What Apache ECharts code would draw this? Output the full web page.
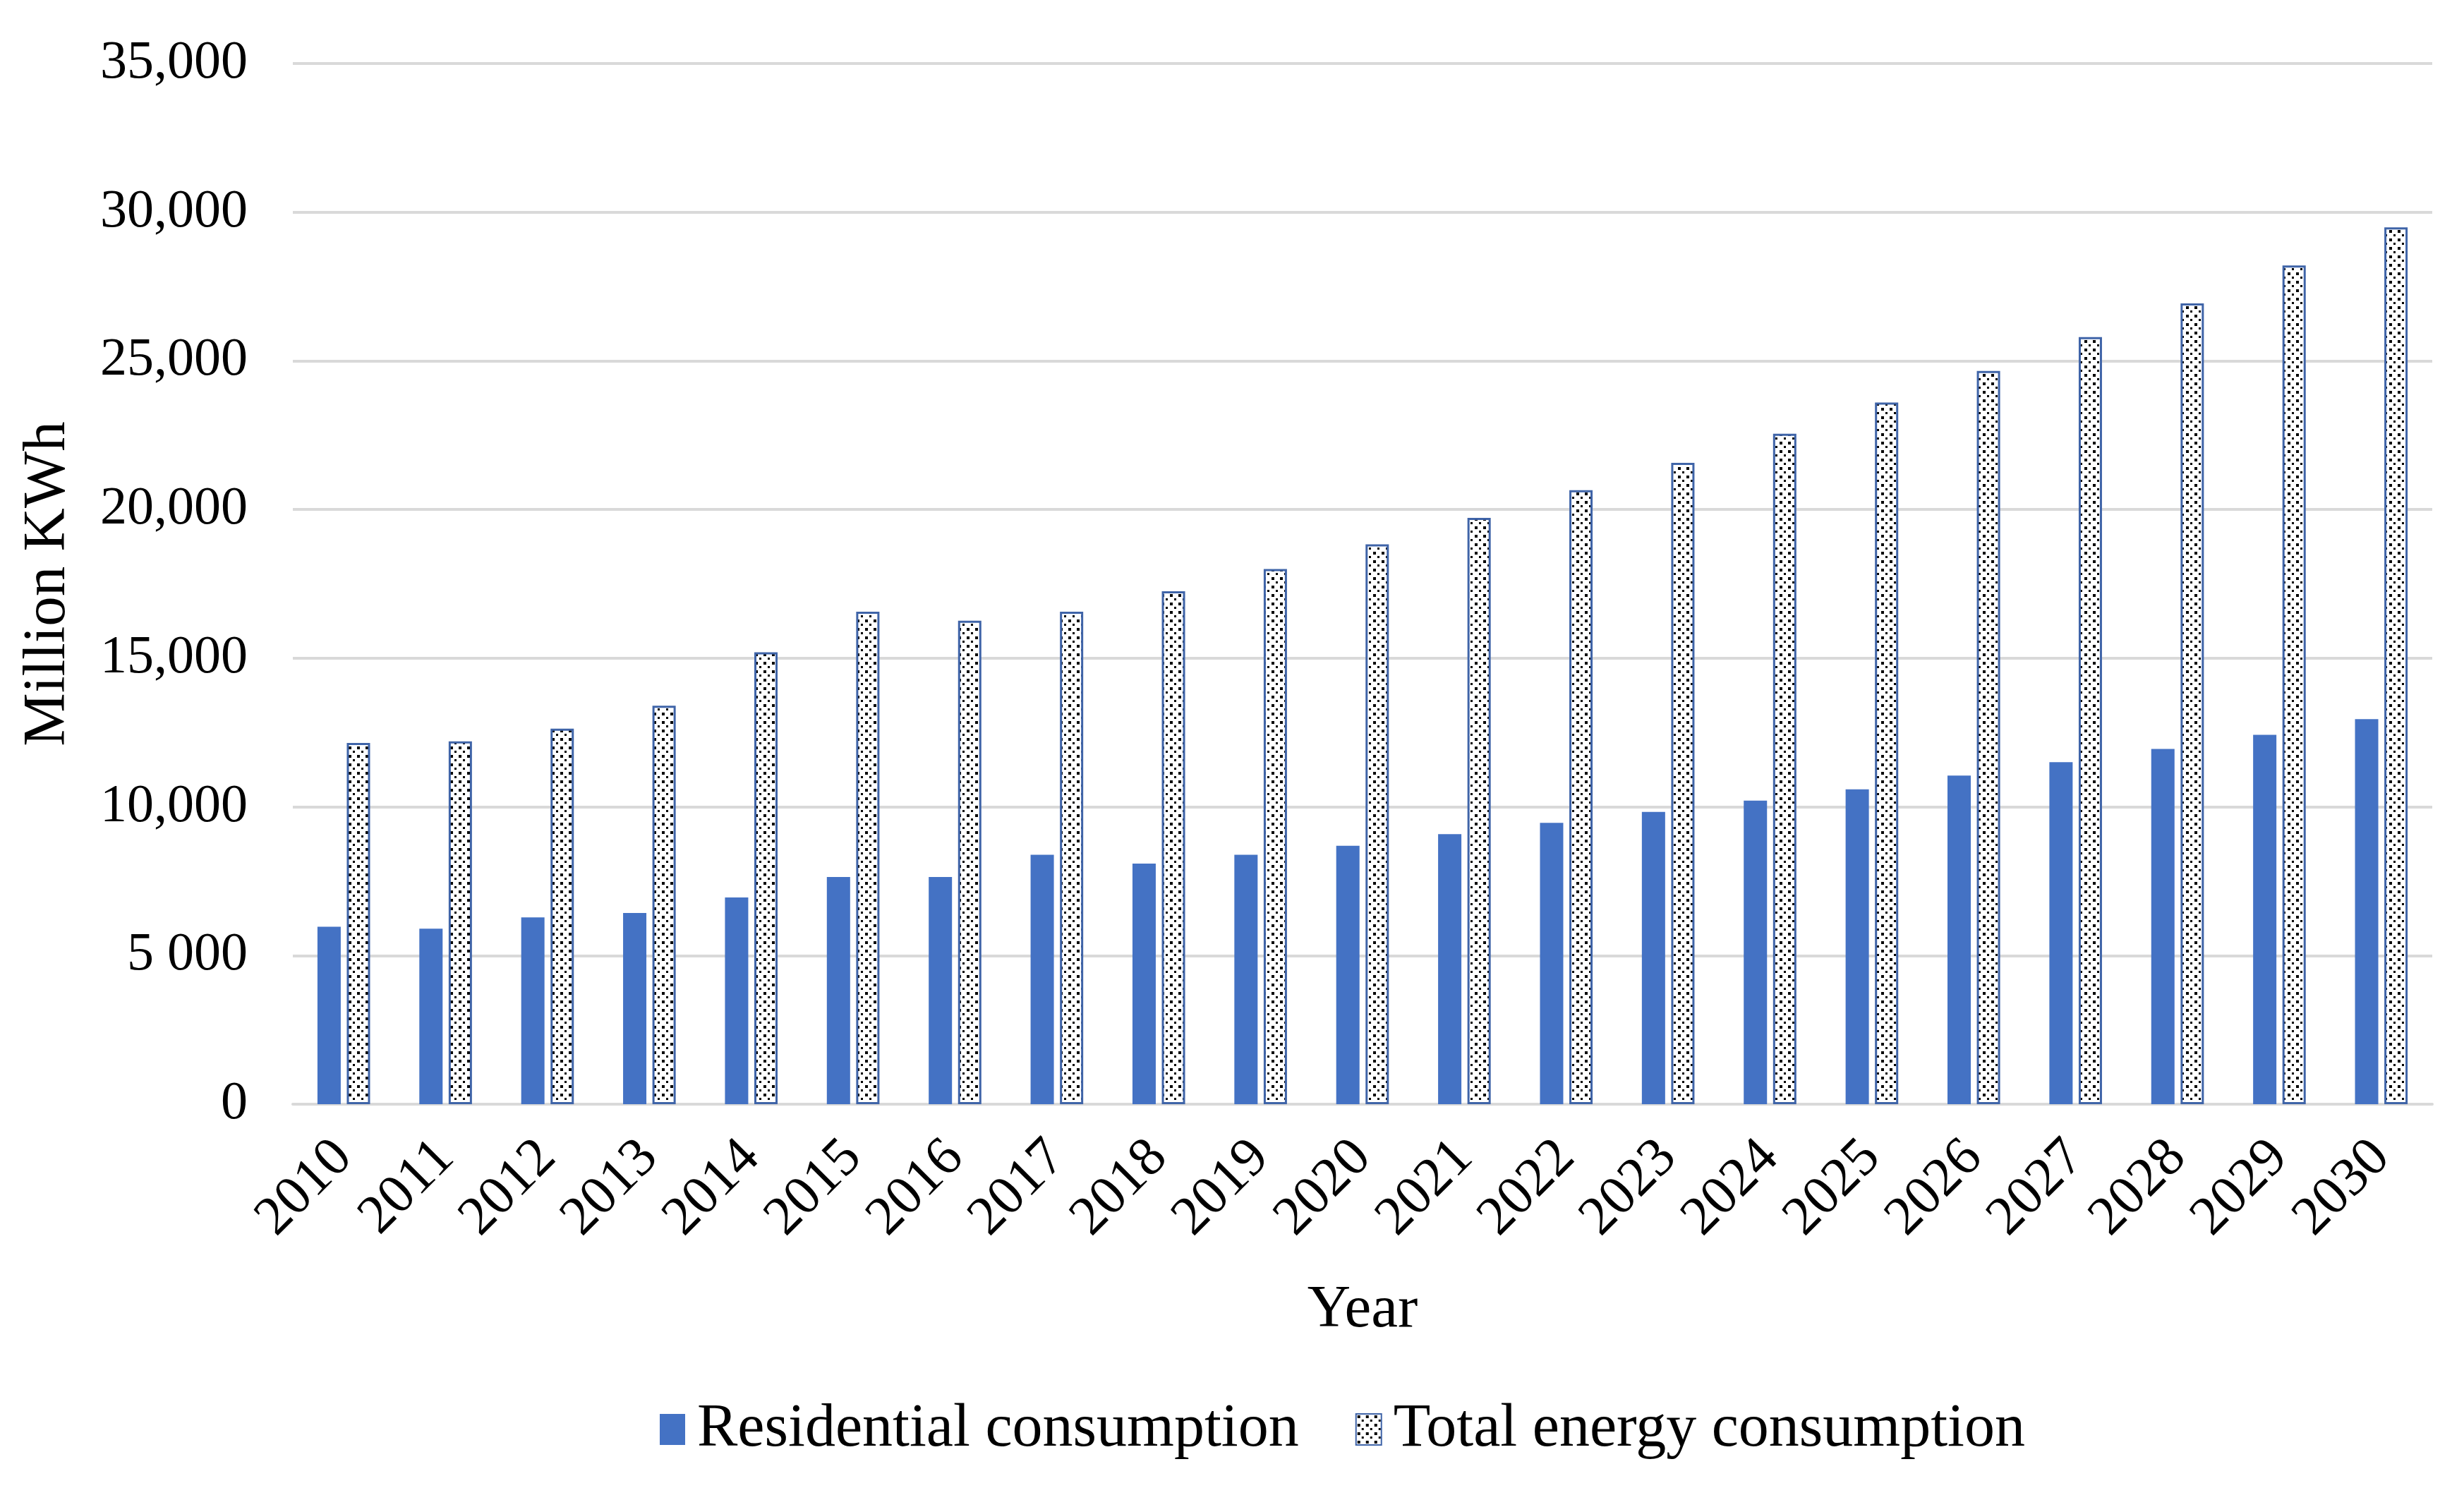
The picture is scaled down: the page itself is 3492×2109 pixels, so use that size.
<!DOCTYPE html>
<html>
<head>
<meta charset="utf-8">
<script src="https://cdn.jsdelivr.net/npm/echarts@6/dist/echarts.min.js"></script>
<style>
  html, body { margin: 0; padding: 0; background: #ffffff; }
  #chart { width: 3492px; height: 2109px; }
</style>
</head>
<body>
<div id="chart"></div>
<script>
// ---- data ----
const years = ['2010','2011','2012','2013','2014','2015','2016','2017','2018','2019','2020',
               '2021','2022','2023','2024','2025','2026','2027','2028','2029','2030'];
const residential = [5970, 5900, 6280, 6430, 6950, 7640, 7640, 8390, 8090, 8390, 8690,
                     9080, 9460, 9830, 10210, 10590, 11050, 11500, 11950, 12420, 12950];
const totalEnergy = [12150, 12200, 12630, 13400, 15200, 16560, 16260, 16560, 17250, 18000, 18830,
                     19720, 20650, 21570, 22550, 23600, 24660, 25800, 26930, 28210, 29490];
const yTickLabels = ['0', '5 000', '10,000', '15,000', '20,000', '25,000', '30,000', '35,000'];
const seriesNames = ['Residential consumption', 'Total energy consumption'];

// dotted pattern for the total series
function makeDots() {
  const c = document.createElement('canvas');
  c.width = 12; c.height = 12;
  const g = c.getContext('2d');
  g.fillStyle = '#ffffff';
  g.fillRect(0, 0, 12, 12);
  g.fillStyle = '#000000';
  g.fillRect(2, 2, 4, 4);
  g.fillRect(8, 8, 3, 3);
  return c;
}
const dots = makeDots();

const FONT = 'Liberation Serif';
const chart = echarts.init(document.getElementById('chart'));
chart.setOption({
  backgroundColor: '#ffffff',
  animation: false,
  textStyle: { fontFamily: FONT, color: '#000000' },
  grid: { left: 415, right: 45, top: 90, bottom: 544, containLabel: false },
  legend: {
    data: seriesNames,
    left: 930, top: 1978,
    icon: 'rect',
    itemWidth: 36, itemHeight: 44, itemGap: 80,
    textStyle: { fontFamily: FONT, fontSize: 86, color: '#000000', padding: [0, 0, 0, 12] }
  },
  xAxis: {
    type: 'category',
    data: years,
    name: 'Year',
    nameLocation: 'middle',
    nameGap: 250,
    nameTextStyle: { fontFamily: FONT, fontSize: 85, color: '#000000' },
    axisLine: { show: true, lineStyle: { color: '#D9D9D9', width: 4 } },
    axisTick: { show: false },
    axisLabel: { rotate: 45, margin: 64, fontFamily: FONT, fontSize: 78, color: '#000000' }
  },
  yAxis: {
    type: 'value',
    min: 0, max: 35000, interval: 5000,
    name: 'Million KWh',
    nameLocation: 'middle',
    nameRotate: 90,
    nameGap: 304,
    nameTextStyle: { fontFamily: FONT, fontSize: 85, color: '#000000' },
    axisLine: { show: false },
    axisTick: { show: false },
    splitLine: { lineStyle: { color: '#D9D9D9', width: 4 } },
    axisLabel: {
      margin: 64, fontFamily: FONT, fontSize: 76, color: '#000000',
      formatter: function (v) { return yTickLabels[Math.round(v / 5000)]; }
    }
  },
  series: [
    {
      name: seriesNames[0], type: 'bar', data: residential,
      barWidth: 33, barGap: '26%',
      itemStyle: { color: '#4472C4' }
    },
    {
      name: seriesNames[1], type: 'bar', data: totalEnergy,
      barWidth: 33,
      itemStyle: {
        color: { image: dots, repeat: 'repeat' },
        borderColor: '#3F64A8', borderWidth: 3
      }
    }
  ]
});
</script>
</body>
</html>
